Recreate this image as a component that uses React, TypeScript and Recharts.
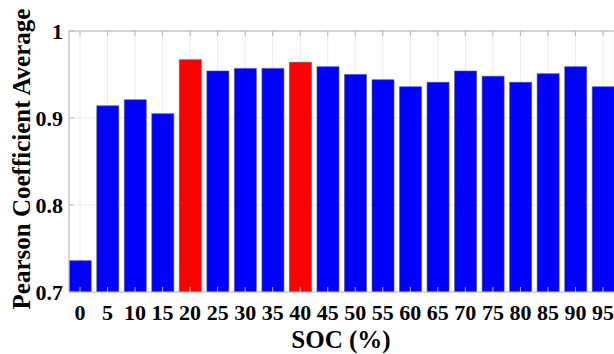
import React from 'react';
import { BarChart, Bar, XAxis, YAxis, CartesianGrid, Cell } from 'recharts';

const socLevels = [0, 5, 10, 15, 20, 25, 30, 35, 40, 45, 50, 55, 60, 65, 70, 75, 80, 85, 90, 95];
const pearsonAvg = [0.736, 0.914, 0.921, 0.905, 0.967, 0.954, 0.957, 0.957, 0.964, 0.959, 0.950, 0.944, 0.936, 0.941, 0.954, 0.948, 0.941, 0.951, 0.959, 0.936];
const highlighted = [20, 40];
const yTicks = [0.7, 0.8, 0.9, 1];

const data = socLevels.map((soc, i) => ({ soc, value: pearsonAvg[i] }));

const FONT = 'Liberation Serif';
const AXIS = '#b4b4b4';

export default function App() {
  return (
    <div style={{ position: 'absolute', left: 0, top: 0, width: 614, height: 354, background: '#fff', fontFamily: FONT }}>
      <BarChart width={614} height={354} data={data} margin={{ top: 30, right: 0, bottom: 0, left: 0 }} style={{ fontFamily: FONT }}>
        <CartesianGrid stroke="#ececec" strokeWidth={1} />
        <XAxis
          xAxisId="top"
          orientation="top"
          type="number"
          dataKey="soc"
          domain={[-2, 97]}
          ticks={socLevels}
          height={1}
          tickSize={-5}
          tickFormatter={() => ''}
          stroke={AXIS}
          allowDataOverflow
        />
        <XAxis
          type="number"
          dataKey="soc"
          domain={[-2, 97]}
          ticks={socLevels}
          height={62}
          tickSize={-5}
          tickMargin={17}
          stroke={AXIS}
          allowDataOverflow
          tick={{ fill: '#000', fontFamily: FONT, fontWeight: 'bold', fontSize: 22 }}
          label={(props: any) => (
            <text x={341} y={348} textAnchor="middle" style={{ fontFamily: FONT, fontWeight: 'bold', fontSize: 25 }} fill="#000">SOC (%)</text>
          )}
        />
        <YAxis
          type="number"
          domain={[0.7, 1]}
          ticks={yTicks}
          width={69}
          tickSize={-5}
          tickMargin={11}
          stroke={AXIS}
          allowDataOverflow
          tickFormatter={(v: number) => (v === 1 ? '1' : v.toFixed(1))}
          tick={{ fill: '#000', fontFamily: FONT, fontWeight: 'bold', fontSize: 22 }}
          label={(props: any) => (
            <text x={30} y={159} transform="rotate(-90 30 159)" textAnchor="middle" style={{ fontFamily: FONT, fontWeight: 'bold', fontSize: 25 }} fill="#000">Pearson Coefficient Average</text>
          )}
        />
        <Bar dataKey="value" barSize={22} stroke="#555" strokeWidth={0.6} isAnimationActive={false}>
          {data.map((d) => (
            <Cell key={d.soc} fill={highlighted.includes(d.soc) ? '#ff0000' : '#0000ff'} />
          ))}
        </Bar>
      </BarChart>
    </div>
  );
}
